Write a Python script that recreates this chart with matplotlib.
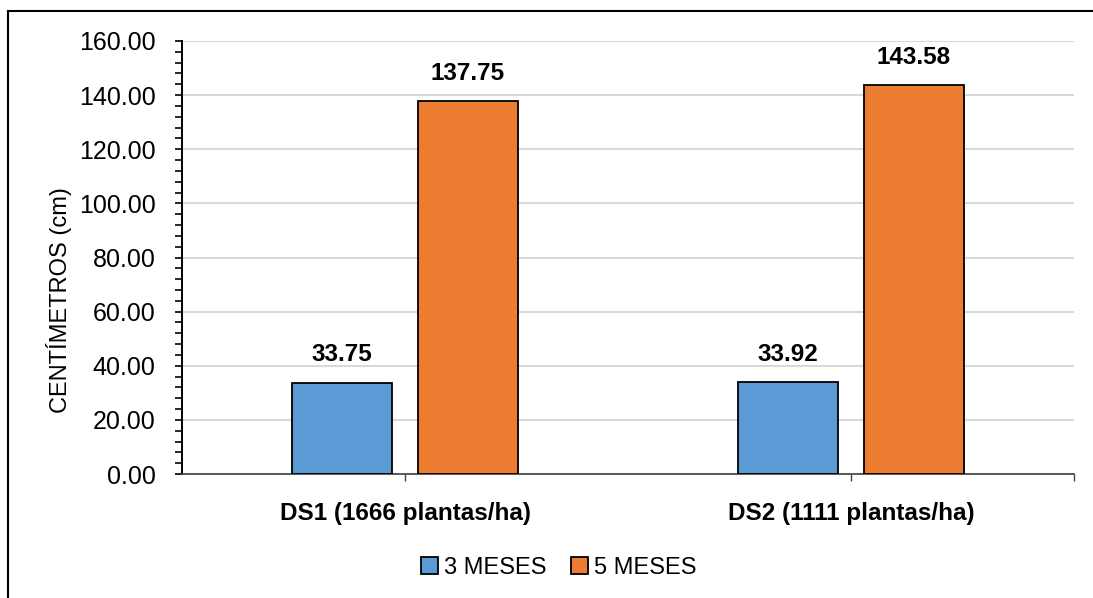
import matplotlib
matplotlib.use("Agg")
import matplotlib.pyplot as plt
from matplotlib.lines import Line2D
from matplotlib.ticker import MultipleLocator, FixedLocator
import numpy as np

plt.rcParams['font.family'] = ['Liberation Sans', 'DejaVu Sans']

categories = ["DS1 (1666 plantas/ha)", "DS2 (1111 plantas/ha)"]
series_names = ["3 MESES", "5 MESES"]
values_3m = [33.75, 33.92]
values_5m = [137.75, 143.58]
colors = ["#5B9BD5", "#ED7D31"]
y_ticks = [0, 20, 40, 60, 80, 100, 120, 140, 160]

W, H = 1093, 598
fig = plt.figure(figsize=(W / 100, H / 100), dpi=100)
ax = fig.add_axes([182 / W, 1 - 474 / H, (1074 - 182) / W, (474 - 41) / H])

x = np.arange(len(categories))
bw = 0.224
off = 0.141
b1 = ax.bar(x - off, values_3m, bw, color=colors[0], edgecolor="black", linewidth=1.3,
            label=series_names[0], zorder=3)
b2 = ax.bar(x + off, values_5m, bw, color=colors[1], edgecolor="black", linewidth=1.3,
            label=series_names[1], zorder=3)

for bars, vals in ((b1, values_3m), (b2, values_5m)):
    for rect, v in zip(bars, vals):
        ax.annotate(f"{v:.2f}", (rect.get_x() + rect.get_width() / 2, v),
                    xytext=(0, 12), textcoords="offset points",
                    ha="center", va="bottom", fontsize=17.5, fontweight="bold")

ax.set_xlim(-0.5, 1.5)
ax.set_ylim(0, 160)
ax.yaxis.set_major_locator(FixedLocator(y_ticks))
ax.yaxis.set_minor_locator(MultipleLocator(4))
ax.set_yticklabels([f"{t:.2f}" for t in y_ticks], fontsize=18)
ax.tick_params(axis="y", which="both", direction="out", length=5, width=1.2,
               color="black", pad=14)
ax.set_xticks(x)
ax.set_xticklabels(categories, fontsize=17.5, fontweight="bold")
ax.xaxis.set_minor_locator(FixedLocator([1.5]))
ax.tick_params(axis="x", which="both", direction="out", length=5, width=1.0,
               color="#404040", pad=15)

ax.grid(axis="y", color="#D9D9D9", linewidth=1.5, zorder=0)
ax.set_axisbelow(True)
for s in ("top", "right"):
    ax.spines[s].set_visible(False)
ax.spines["left"].set_color("black")
ax.spines["left"].set_linewidth(1.4)
ax.spines["bottom"].set_color("#404040")
ax.spines["bottom"].set_linewidth(1.2)

fig.text(59 / W, 1 - 300 / H, "CENTÍMETROS (cm)", rotation=90, fontsize=17,
         ha="center", va="center")

fig.legend(handles=[b1, b2], labels=series_names, loc="center",
           bbox_to_anchor=(559 / W, 1 - 568 / H), ncol=2, frameon=False,
           fontsize=17, handlelength=0.72, handleheight=0.72, handletextpad=0.25,
           columnspacing=1.05)

# chart frame (top and left edges)
fig.add_artist(Line2D([8 / W, 1], [1 - 11 / H, 1 - 11 / H], color="black", linewidth=1.5))
fig.add_artist(Line2D([8 / W, 8 / W], [0, 1 - 11 / H], color="black", linewidth=1.5))

fig.savefig("out.png", dpi=100)
